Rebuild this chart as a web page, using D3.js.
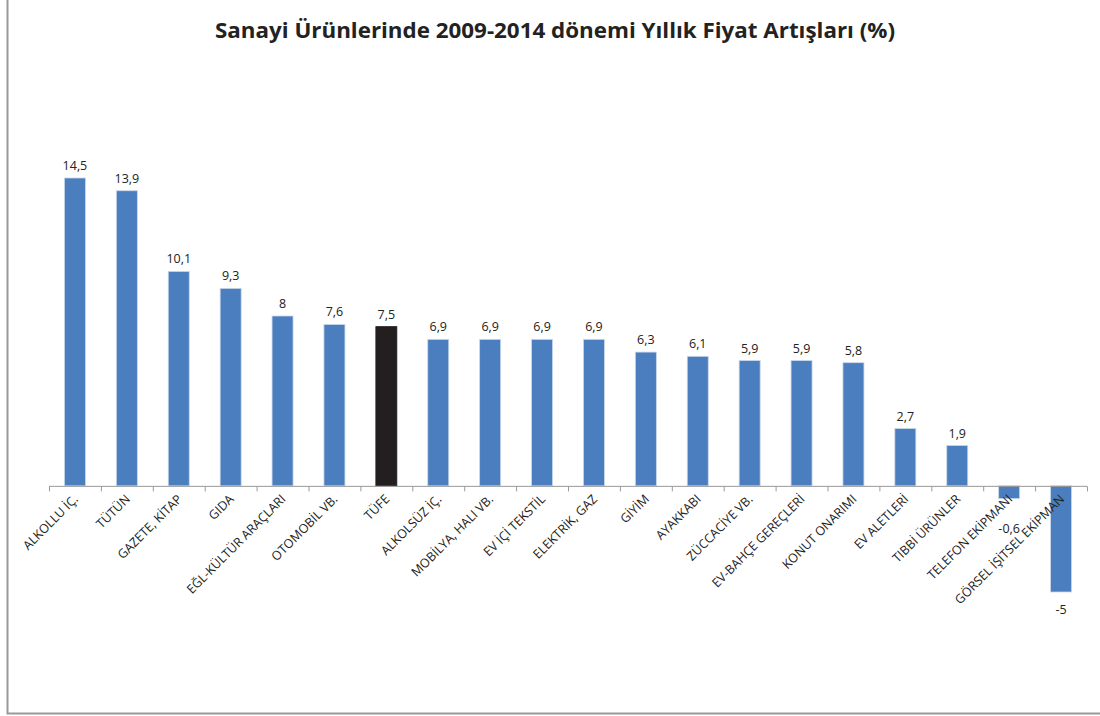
<!DOCTYPE html>
<html>
<head>
<meta charset="utf-8">
<script src="https://cdn.jsdelivr.net/npm/d3@7"></script>
<style>
  body { margin: 0; background: #fff; }
  text { font-family: "Open Sans", sans-serif; fill: #222; }
</style>
</head>
<body>
<script>
// categories and yearly price increases (%)
const categories = ["ALKOLLU İÇ.", "TÜTÜN", "GAZETE, KİTAP", "GIDA", "EĞL-KÜLTÜR ARAÇLARI",
  "OTOMOBİL VB.", "TÜFE", "ALKOLSÜZ İÇ.", "MOBİLYA, HALI VB.", "EV İÇİ TEKSTİL",
  "ELEKTRİK, GAZ", "GİYİM", "AYAKKABI", "ZÜCCACİYE VB.", "EV-BAHÇE GEREÇLERİ",
  "KONUT ONARIMI", "EV ALETLERİ", "TIBBİ ÜRÜNLER", "TELEFON EKİPMANI", "GÖRSEL İŞİTSEL EKİPMAN"];
const values = [14.5, 13.9, 10.1, 9.3, 8, 7.6, 7.5, 6.9, 6.9, 6.9, 6.9, 6.3, 6.1, 5.9, 5.9, 5.8, 2.7, 1.9, -0.6, -5];
const highlight = "TÜFE";

const W = 1100, H = 716;
const svg = d3.select("body").append("svg")
  .attr("width", W)
  .attr("height", H);

// frame
svg.append("path")
  .attr("d", "M7.5,0 V713.5 H1100")
  .attr("fill", "none")
  .attr("stroke", "#999")
  .attr("stroke-width", 2);

svg.append("text")
  .attr("x", 555)
  .attr("y", 38)
  .attr("text-anchor", "middle")
  .attr("font-size", 21)
  .attr("font-weight", "bold")
  .attr("textLength", 680)
  .attr("lengthAdjust", "spacingAndGlyphs")
  .text("Sanayi Ürünlerinde 2009-2014 dönemi Yıllık Fiyat Artışları (%)");

const x = d3.scaleBand()
  .domain(categories)
  .range([49, 1087]);
const y = d3.scaleLinear()
  .domain([-5, 14.5])
  .range([592, 178]);

const bw = 21;
const g = svg.append("g");

g.selectAll("rect")
  .data(values)
  .enter()
  .append("rect")
  .attr("x", (d, i) => x(categories[i]) + x.bandwidth() / 2 - bw / 2)
  .attr("y", d => Math.min(y(d), y(0)))
  .attr("width", bw)
  .attr("height", d => Math.abs(y(d) - y(0)))
  .attr("fill", (d, i) => categories[i] === highlight ? "#231f20" : "#4a7ebf")
  .attr("stroke", (d, i) => categories[i] === highlight ? "#231f20" : "#c9d7ea")
  .attr("stroke-width", 0.8);

// value labels
g.selectAll(".val")
  .data(values)
  .enter()
  .append("text")
  .attr("class", "val")
  .attr("x", (d, i) => x(categories[i]) + x.bandwidth() / 2)
  .attr("y", d => d >= 0 ? y(d) - 8 : (d < -1 ? y(d) + 22 : y(d) + 34))
  .attr("text-anchor", "middle")
  .attr("font-size", 12.5)
  .text(d => String(d).replace(".", ","));

// zero axis with ticks between categories
const axis = svg.append("g");
axis.append("line")
  .attr("x1", 49).attr("x2", 1087)
  .attr("y1", y(0) + 0.5).attr("y2", y(0) + 0.5)
  .attr("stroke", "#999");
axis.selectAll(".tick")
  .data(d3.range(categories.length + 1))
  .enter()
  .append("line")
  .attr("x1", i => 49.5 + i * x.step())
  .attr("x2", i => 49.5 + i * x.step())
  .attr("y1", y(0) + 0.5)
  .attr("y2", y(0) + 5.5)
  .attr("stroke", "#999");

// rotated category labels
axis.selectAll(".cat")
  .data(categories)
  .enter()
  .append("text")
  .attr("class", "cat")
  .attr("font-size", 12.5)
  .attr("text-anchor", "end")
  .attr("transform", d => `translate(${x(d) + x.bandwidth() / 2 + 4},${y(0) + 14}) rotate(-45)`)
  .text(d => d);
</script>
</body>
</html>
